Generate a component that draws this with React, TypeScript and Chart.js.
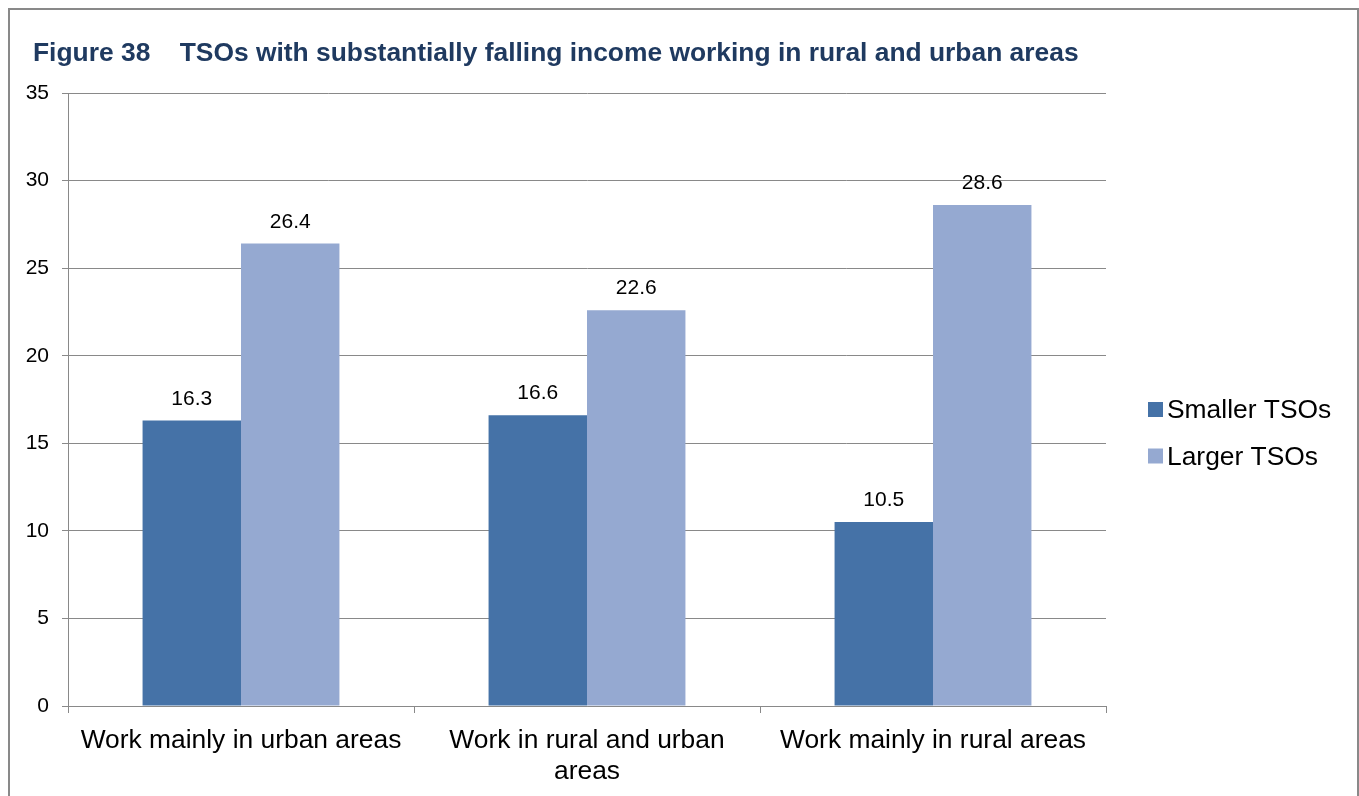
import React, { useEffect, useRef } from "react";
import { Chart, registerables } from "chart.js";

Chart.register(...registerables);

const TITLE = "Figure 38    TSOs with substantially falling income working in rural and urban areas";
const categories: (string | string[])[] = [
  "Work mainly in urban areas",
  ["Work in rural and urban", "areas"],
  "Work mainly in rural areas",
];
const seriesNames = ["Smaller TSOs", "Larger TSOs"];
const smallerTSOs = [16.3, 16.6, 10.5];
const largerTSOs = [26.4, 22.6, 28.6];
const seriesColors = ["#4572A7", "#95A9D1"];
const yMin = 0;
const yMax = 35;
const yStep = 5;

const FONT = "'Liberation Sans', Arial, Helvetica, sans-serif";
const GRID = "#898989";

const titlePlugin = {
  id: "figTitle",
  afterDraw(chart: any) {
    const ctx = chart.ctx;
    ctx.save();
    ctx.font = `bold 26.4px ${FONT}`;
    ctx.fillStyle = "#1F3A60";
    ctx.textAlign = "left";
    ctx.textBaseline = "alphabetic";
    ctx.fillText(TITLE, 23, 51);
    ctx.restore();
  },
};

const valueLabelPlugin = {
  id: "valueLabels",
  afterDatasetsDraw(chart: any) {
    const ctx = chart.ctx;
    ctx.save();
    ctx.font = `21px ${FONT}`;
    ctx.fillStyle = "#000000";
    ctx.textAlign = "center";
    ctx.textBaseline = "alphabetic";
    chart.data.datasets.forEach((ds: any, i: number) => {
      const meta = chart.getDatasetMeta(i);
      meta.data.forEach((bar: any, j: number) => {
        ctx.fillText(String(ds.data[j].toFixed(1)), bar.x, bar.y - 16);
      });
    });
    ctx.restore();
  },
};

const legendPlugin = {
  id: "sideLegend",
  afterDraw(chart: any) {
    const ctx = chart.ctx;
    const area = chart.chartArea;
    const x = area.right + 42;
    const y0 = area.top + 309;
    const rowH = 46.5;
    const box = 15;
    ctx.save();
    ctx.font = `26.4px ${FONT}`;
    ctx.textAlign = "left";
    ctx.textBaseline = "alphabetic";
    chart.data.datasets.forEach((ds: any, i: number) => {
      const y = y0 + i * rowH;
      ctx.fillStyle = ds.backgroundColor;
      ctx.fillRect(x, y, box, box);
      ctx.fillStyle = "#000000";
      ctx.fillText(ds.label, x + box + 4, y + box + 1);
    });
    ctx.restore();
  },
};

export default function App() {
  const canvasRef = useRef<HTMLCanvasElement | null>(null);

  useEffect(() => {
    if (!canvasRef.current) return;
    const chart = new Chart(canvasRef.current, {
      type: "bar",
      data: {
        labels: categories,
        datasets: [
          {
            label: seriesNames[0],
            data: smallerTSOs,
            backgroundColor: seriesColors[0],
            categoryPercentage: 0.569,
            barPercentage: 1.0,
          },
          {
            label: seriesNames[1],
            data: largerTSOs,
            backgroundColor: seriesColors[1],
            categoryPercentage: 0.569,
            barPercentage: 1.0,
          },
        ],
      },
      options: {
        responsive: false,
        animation: false,
        layout: { padding: { top: 83, right: 251, left: 0, bottom: 0 } },
        plugins: {
          legend: { display: false },
          title: { display: false },
          tooltip: { enabled: false },
        },
        scales: {
          x: {
            afterFit: (scale: any) => {
              scale.height = 90;
            },
            grid: {
              offset: true,
              drawOnChartArea: false,
              drawTicks: true,
              tickLength: 7,
              color: GRID,
            },
            border: { display: true, color: GRID, width: 1 },
            ticks: {
              color: "#000000",
              font: { family: FONT, size: 26.4, lineHeight: 1.15 },
              padding: 13,
              maxRotation: 0,
              autoSkip: false,
            },
          },
          y: {
            min: yMin,
            max: yMax,
            afterFit: (scale: any) => {
              scale.width = 58;
            },
            grid: {
              color: GRID,
              lineWidth: 1,
              drawTicks: true,
              tickLength: 6,
            },
            border: { display: true, color: GRID, width: 1 },
            ticks: {
              stepSize: yStep,
              color: "#000000",
              font: { family: FONT, size: 21 },
              padding: 13,
            },
          },
        },
      },
      plugins: [titlePlugin, valueLabelPlugin, legendPlugin],
    });
    return () => chart.destroy();
  }, []);

  return (
    <div
      style={{
        position: "fixed",
        left: 8,
        top: 8,
        width: 1347,
        height: 790,
        border: "2px solid #898989",
        background: "#ffffff",
      }}
    >
      <canvas ref={canvasRef} width={1347} height={786} style={{ display: "block" }} />
    </div>
  );
}
